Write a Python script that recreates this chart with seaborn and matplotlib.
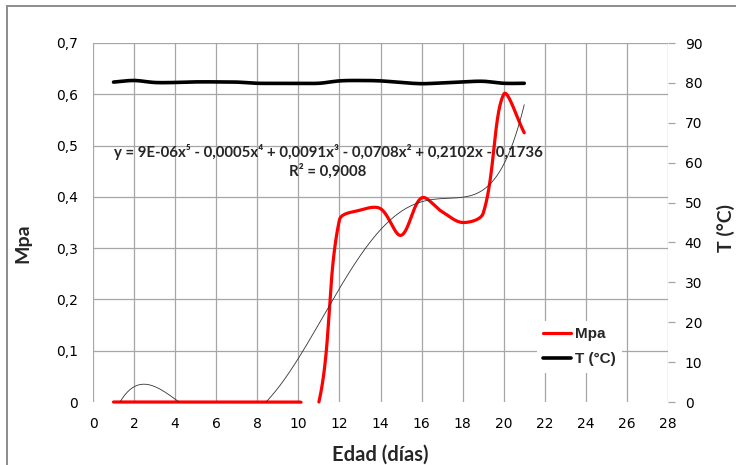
import numpy as np
import seaborn as sns
import matplotlib.pyplot as plt
from matplotlib.lines import Line2D
from matplotlib.patches import Rectangle
from matplotlib.ticker import FuncFormatter


# data
days = [1, 2, 3, 4, 5, 6, 7, 8, 9, 10, 11, 12, 13, 14, 15, 16, 17, 18, 19, 20, 21]
mpa = [0, 0, 0, 0, 0, 0, 0, 0, 0, 0, 0,
       0.355, 0.374, 0.377, 0.325, 0.398, 0.371, 0.350, 0.368, 0.600, 0.525]
temp_c = [80.2, 80.6, 80.1, 80.1, 80.25, 80.25, 80.2, 79.9, 79.9, 79.9, 79.9,
          80.5, 80.6, 80.5, 80.1, 79.8, 80.0, 80.25, 80.4, 79.9, 79.9]

x_ticks = list(range(0, 29, 2))
mpa_ticks = [0, 0.1, 0.2, 0.3, 0.4, 0.5, 0.6, 0.7]
temp_ticks = list(range(0, 91, 10))

equation = ("y = 9E-06x\u2075 - 0,0005x\u2074 + 0,0091x\u00b3 - 0,0708x\u00b2 + 0,2102x - 0,1736\n"
            "R\u00b2 = 0,9008")

GRID = '#a6a6a6'
LABEL_FONT = ['Lato', 'DejaVu Sans']


def smooth(x, y, xs, ys, n=25):
    # excel style smoothed line, bezier control points worked out in pixel space
    pts = np.column_stack([np.asarray(x, float) * xs, np.asarray(y, float) * ys])
    out = [pts[0]]
    t = np.linspace(0, 1, n)[1:, None]
    last = len(pts) - 1
    for i in range(last):
        p0 = pts[max(i - 1, 0)]
        p1 = pts[i]
        p2 = pts[i + 1]
        p3 = pts[min(i + 2, last)]
        d01 = np.hypot(*(p1 - p0))
        d12 = np.hypot(*(p2 - p1))
        d23 = np.hypot(*(p3 - p2))
        c1 = p1 + (p2 - p0) * d12 / (d01 + d12) / 3
        c2 = p2 - (p3 - p1) * d12 / (d12 + d23) / 3
        seg = (1 - t) ** 3 * p1 + 3 * (1 - t) ** 2 * t * c1 + 3 * (1 - t) * t ** 2 * c2 + t ** 3 * p2
        out.extend(seg)
    out = np.array(out)
    return out[:, 0] / xs, out[:, 1] / ys


def comma(v, pos):
    if abs(v) < 1e-9:
        return '0'
    return f'{v:.1f}'.replace('.', ',')


sns.set_style('white')
plt.rcParams['font.family'] = ['DejaVu Sans']

fig = plt.figure(figsize=(7.36, 4.65), dpi=100)
ax = fig.add_axes([93 / 736, 63 / 465, 575 / 736, 359 / 465])
ax2 = ax.twinx()

# outer chart border
fig.add_artist(Rectangle((7 / 736, -0.02), 1.0, 1 - 6 / 465 + 0.02, transform=fig.transFigure,
                         fill=False, edgecolor='#8c8c8c', lw=1.4))

# pixel scale of the plot area (px per day, px per unit)
px_day = 575 / 28
px_mpa = 359 / 0.7
px_temp = 359 / 90

# strength curve, the part that the smoothing pushes below zero is left out
sx, sy = smooth(days, mpa, px_day, px_mpa, n=60)
keep = sy >= -0.0005
piece = np.cumsum(np.r_[0, np.diff(keep.astype(int)) != 0])
sns.lineplot(x=sx[keep], y=sy[keep], units=piece[keep], ax=ax, sort=False, estimator=None,
             color='#ff0000', lw=2.3, clip_on=False)

# polynomial trendline, order 5
coef = np.polyfit(days, mpa, 5)
tx = np.linspace(days[0], days[-1], 300)
sns.lineplot(x=tx, y=np.polyval(coef, tx), ax=ax, sort=False, estimator=None, color='#333333', lw=0.6)

# temperature
tsx, tsy = smooth(days, temp_c, px_day, px_temp)
sns.lineplot(x=tsx, y=tsy, ax=ax2, sort=False, estimator=None, color='black', lw=2.6)

ax.set_xlim(0, 28)
ax.set_ylim(0, 0.7)
ax2.set_ylim(0, 90)
ax.set_xticks(x_ticks)
ax.set_yticks(mpa_ticks)
ax2.set_yticks(temp_ticks)
ax.yaxis.set_major_formatter(FuncFormatter(comma))

ax.grid(True, color=GRID, lw=0.9)
ax.get_ygridlines()[0].set_visible(False)
ax.set_axisbelow(True)
for a in (ax, ax2):
    for s in a.spines.values():
        s.set_visible(False)

ax.tick_params(axis='both', length=0, labelsize=10, colors='black')
ax.tick_params(axis='y', pad=11)
ax.tick_params(axis='x', pad=11)
ax2.tick_params(axis='y', direction='out', length=5, width=0.9, color=GRID, pad=7,
                labelsize=10, labelcolor='black')

ax.set_xlabel('Edad (días)', family=LABEL_FONT, fontweight='bold', fontsize=14.5)
ax.xaxis.set_label_coords(0.5, -0.118)
ax.set_ylabel('Mpa', family=LABEL_FONT, fontweight='bold', fontsize=14)
ax.yaxis.set_label_coords(-0.108, 0.443)
ax2.set_ylabel('T (°C)', family=LABEL_FONT, fontweight='bold', fontsize=14)
ax2.yaxis.set_label_coords(1.085, 0.485)

ax.text(11.45, 0.47, equation, ha='center', va='center', multialignment='center',
        family=LABEL_FONT, fontweight='bold', fontsize=10.8, linespacing=1.3)

handles = [Line2D([], [], color='#ff0000', lw=2.3), Line2D([], [], color='black', lw=2.6)]
leg = ax2.legend(handles, ['Mpa', 'T (°C)'], loc='center', bbox_to_anchor=(0.846, 0.154),
                 frameon=True, facecolor='white', edgecolor='none', framealpha=1,
                 handlelength=1.8, handletextpad=0.3, labelspacing=0.75, borderpad=0.4,
                 prop={'family': 'Liberation Sans', 'weight': 'bold', 'size': 11})
leg.set_zorder(5)

fig.savefig('out.png', dpi=100)
plt.close()
